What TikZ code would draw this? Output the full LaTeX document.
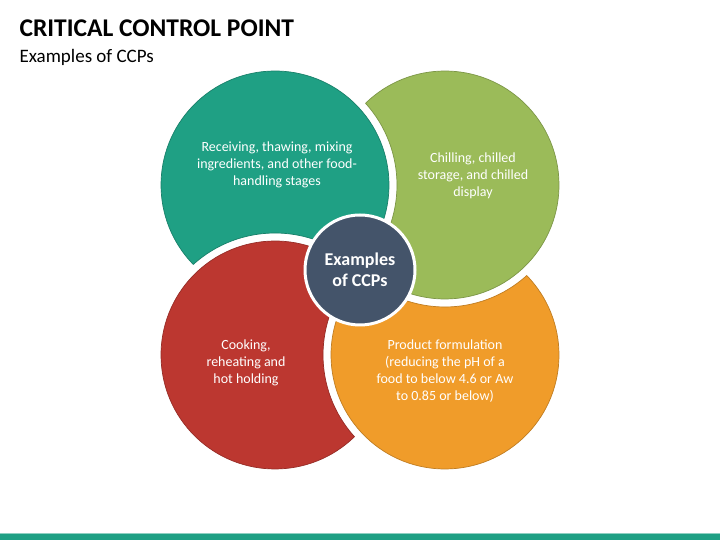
\documentclass[tikz,border=0pt]{standalone}
\usepackage{fontspec}
\setmainfont{Carlito}
\definecolor{tealc}{HTML}{1FA084}
\definecolor{greenc}{HTML}{9BBB59}
\definecolor{redc}{HTML}{BC3730}
\definecolor{orangec}{HTML}{F09C2A}
\definecolor{slatec}{HTML}{44546A}
\tikzset{
  petal/.style={line width=0.7pt},
  caption/.style={text=white, align=center, font=\fontsize{14}{17}\selectfont},
}
\begin{document}
\begin{tikzpicture}[x=1pt,y=1pt]
  \useasboundingbox (0,0) rectangle (720,540);
  \node [anchor=base west, font=\fontsize{25.5}{30}\selectfont\bfseries] (title) at (16,503) {CRITICAL CONTROL POINT};
  \node [anchor=base west, font=\fontsize{19}{23}\selectfont] (subtitle) at (16,477) {Examples of CCPs};
  % four cut circles, each bitten by the next one
  \foreach \ang/\col in {0/tealc, -90/greenc, -180/orangec, -270/redc} {
    \begin{scope}[shift={(360,270)}, rotate=\ang]
      \draw [petal, fill=\col, draw=\col!80!black] (-85,85) ++(-44.19:114)
        arc [start angle=-44.19, end angle=224.19, radius=114]
        arc [start angle=132.08, end angle=47.92, radius=122] -- cycle;
    \end{scope}
  }
  \node [circle, minimum size=110, fill=slatec, draw=white, line width=3pt,
    text=white, align=center, font=\fontsize{18}{21}\selectfont\bfseries] (hub) at (360,270) {Examples\\of CCPs};
  \node [caption] (receiving) at (277,375) {Receiving, thawing, mixing\\ingredients, and other food-\\handling stages};
  \node [caption] (chilling) at (473,364) {Chilling, chilled\\storage, and chilled\\display};
  \node [caption] (cooking) at (246,177) {Cooking,\\reheating and\\hot holding};
  \node [caption] (formulation) at (445,169) {Product formulation\\(reducing the pH of a\\food to below 4.6 or Aw\\to 0.85 or below)};
  \fill [tealc!50] (0,6) rectangle (720,7);
  \fill [tealc] (0,0) rectangle (720,6);
\end{tikzpicture}
\end{document}
